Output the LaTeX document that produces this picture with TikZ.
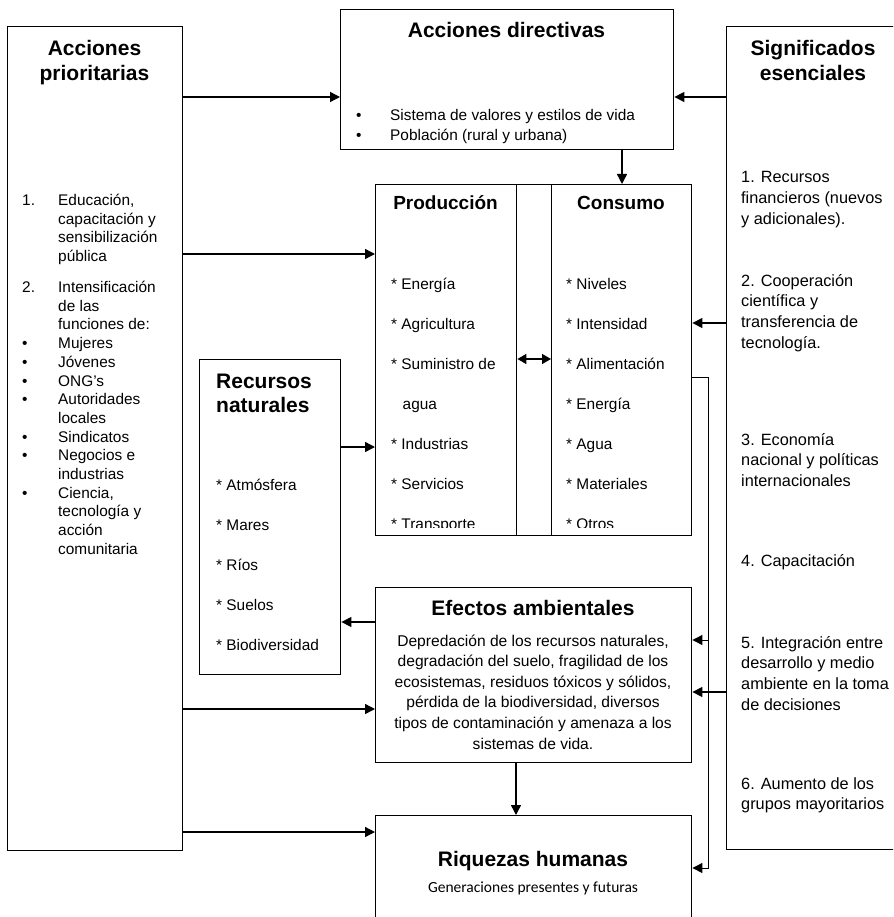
\documentclass[tikz,border=0pt]{standalone}
\usepackage{fontspec}
\setmainfont{Liberation Sans}
\newfontfamily\calibrifont{Carlito}
\usetikzlibrary{arrows.meta}

% one starred list entry
\newcommand\staritem{{*}\ }

\tikzset{
  box/.style={draw, line width=1.4pt, inner sep=0pt, anchor=north west},
  arr/.style={line width=1.4pt, -{Triangle[length=10pt,width=10pt]}},
  thinarr/.style={line width=1pt, -{Triangle[length=10pt,width=10pt]}},
  dblarr/.style={line width=1.4pt, {Triangle[length=9pt,width=10pt]}-{Triangle[length=9pt,width=10pt]}},
  txt/.style={inner sep=0pt, anchor=base west},
  ctxt/.style={inner sep=0pt, anchor=base},
  title/.style={font=\fontsize{21}{24.5}\selectfont\bfseries},
  subtitle/.style={font=\fontsize{19}{22}\selectfont\bfseries},
  body/.style={font=\fontsize{15.4}{18.7}\selectfont},
  sigbody/.style={font=\fontsize{16.3}{20.8}\selectfont},
  listbody/.style={font=\fontsize{15.4}{40}\selectfont},
}

\begin{document}
\begin{tikzpicture}[x=1pt,y=-1pt]
\useasboundingbox (0,0) rectangle (893,917);
\clip (0,0) rectangle (893,917);

% boxes
\node[box, minimum width=175pt, minimum height=824pt] (prior) at (7,26) {};
\node[box, minimum width=333pt, minimum height=140pt] (dir) at (340,9) {};
\node[box, minimum width=141pt, minimum height=351pt] (prod) at (375,184) {};
\node[box, minimum width=35pt, minimum height=351pt] (gap) at (516,184) {};
\node[box, minimum width=140pt, minimum height=351pt] (cons) at (551,184) {};
\node[box, minimum width=175pt, minimum height=823pt] (sig) at (726,26) {};
\node[box, minimum width=141pt, minimum height=315pt] (rec) at (199,359) {};
\node[box, minimum width=316pt, minimum height=175pt] (efe) at (375,587) {};
\node[box, minimum width=316pt, minimum height=130pt] (riq) at (375,815) {};

% Acciones prioritarias
\node[ctxt, title] (priorT) at (94.5,56)
  {\begin{tabular}[t]{@{}c@{}}Acciones\\prioritarias\end{tabular}};
\node[txt, body] (priorA) at (22,205.5)
  {\begin{tabular}[t]{@{}l@{}l@{}}
   \makebox[36pt][l]{1.} & Educación,\\
   & capacitación y\\
   & sensibilización\\
   & pública
   \end{tabular}};
\node[txt, body] (priorB) at (22,292.5)
  {\begin{tabular}[t]{@{}l@{}l@{}}
   \makebox[36pt][l]{2.} & Intensificación\\
   & de las\\
   & funciones de:\\
   • & Mujeres\\
   • & Jóvenes\\
   • & ONG’s\\
   • & Autoridades\\
   & locales\\
   • & Sindicatos\\
   • & Negocios e\\
   & industrias\\
   • & Ciencia,\\
   & tecnología y\\
   & acción\\
   & comunitaria
   \end{tabular}};

% Acciones directivas
\node[ctxt, title] (dirT) at (506.5,38) {Acciones directivas};
\node[txt, font=\fontsize{15.4}{19.5}\selectfont] (dirL) at (356,121)
  {\begin{tabular}[t]{@{}l@{}l@{}}
   \makebox[34pt][l]{•} & Sistema de valores y estilos de vida\\
   • & Población (rural y urbana)
   \end{tabular}};

% Significados esenciales
\node[ctxt, title] (sigT) at (813,56)
  {\begin{tabular}[t]{@{}c@{}}Significados\\esenciales\end{tabular}};
\node[txt, sigbody] (sig1) at (741,183)
  {\begin{tabular}[t]{@{}l@{}}1. Recursos\\financieros (nuevos\\y adicionales).\end{tabular}};
\node[txt, sigbody] (sig2) at (741,286)
  {\begin{tabular}[t]{@{}l@{}}2. Cooperación\\científica y\\transferencia de\\tecnología.\end{tabular}};
\node[txt, sigbody] (sig3) at (741,445)
  {\begin{tabular}[t]{@{}l@{}}3. Economía\\nacional y políticas\\internacionales\end{tabular}};
\node[txt, sigbody] (sig4) at (741,566) {4. Capacitación};
\node[txt, sigbody] (sig5) at (741,648)
  {\begin{tabular}[t]{@{}l@{}}5. Integración entre\\desarrollo y medio\\ambiente en la toma\\de decisiones\end{tabular}};
\node[txt, sigbody] (sig6) at (741,789)
  {\begin{tabular}[t]{@{}l@{}}6. Aumento de los\\grupos mayoritarios\end{tabular}};

% Producción / Consumo
\node[ctxt, subtitle] (prodT) at (445.5,210) {Producción};
\node[ctxt, subtitle] (consT) at (621,210) {Consumo};
\begin{scope}
  \clip (375,184) rectangle (691,527);
  \node[txt, listbody] (prodL) at (391,289)
    {\begin{tabular}[t]{@{}l@{}}
     \staritem Energía\\ \staritem Agricultura\\ \staritem Suministro de\\
     \hspace*{11.5pt}agua\\
     \staritem Industrias\\ \staritem Servicios\\ \staritem Transporte
     \end{tabular}};
  \node[txt, listbody] (consL) at (566,289)
    {\begin{tabular}[t]{@{}l@{}}
     \staritem Niveles\\ \staritem Intensidad\\ \staritem Alimentación\\
     \staritem Energía\\ \staritem Agua\\ \staritem Materiales\\ \staritem Otros
     \end{tabular}};
\end{scope}

% Recursos naturales
\node[txt, title] (recT) at (216,388)
  {\begin{tabular}[t]{@{}l@{}}Recursos\\naturales\end{tabular}};
\node[txt, listbody] (recL) at (216,490.5)
  {\begin{tabular}[t]{@{}l@{}}
   \staritem Atmósfera\\ \staritem Mares\\ \staritem Ríos\\
   \staritem Suelos\\ \staritem Biodiversidad
   \end{tabular}};

% Efectos ambientales
\node[ctxt, title] (efeT) at (533,615) {Efectos ambientales};
\node[ctxt, font=\fontsize{15.6}{20.6}\selectfont] (efeL) at (533,646)
  {\begin{tabular}[t]{@{}c@{}}
   Depredación de los recursos naturales,\\
   degradación del suelo, fragilidad de los\\
   ecosistemas, residuos tóxicos y sólidos,\\
   pérdida de la biodiversidad, diversos\\
   tipos de contaminación y amenaza a los\\
   sistemas de vida.
   \end{tabular}};

% Riquezas humanas
\node[ctxt, title] (riqT) at (533,866) {Riquezas humanas};
\node[ctxt, font=\calibrifont\fontsize{15.5}{18}\selectfont] (riqL) at (533,892)
  {Generaciones presentes y futuras};

% connectors
\draw[arr] (prior.east |- 0,97) -- (dir.west |- 0,97);
\draw[arr] (sig.west |- 0,97) -- (dir.east |- 0,97);
\draw[arr] (dir.south -| 622,0) -- (cons.north -| 622,0);
\draw[arr] (prior.east |- 0,254) -- (prod.west |- 0,254);
\draw[arr] (sig.west |- 0,323) -- (cons.east |- 0,323);
\draw[dblarr] (prod.east |- 0,359) -- (cons.west |- 0,359);
\draw[arr] (rec.east |- 0,447) -- (prod.west |- 0,447);
\draw[arr] (efe.west |- 0,622) -- (rec.east |- 0,622);
\draw[arr] (prior.east |- 0,709) -- (efe.west |- 0,709);
\draw[arr] (sig.west |- 0,692) -- (efe.east |- 0,692);
\draw[arr] (efe.south -| 516,0) -- (riq.north -| 516,0);
\draw[arr] (prior.east |- 0,832) -- (riq.west |- 0,832);

\coordinate (bus) at (708,377);
\draw[thinarr] (cons.east |- bus) -- (bus) -- (bus |- 0,868) -- (riq.east |- 0,868);
\draw[thinarr] (bus |- 0,640) -- (efe.east |- 0,640);
\end{tikzpicture}
\end{document}
